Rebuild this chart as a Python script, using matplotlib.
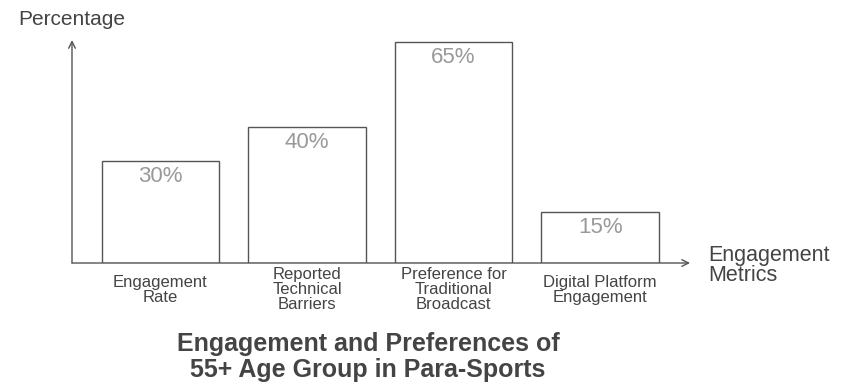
import matplotlib.pyplot as plt

plt.rcParams['font.family'] = ['Liberation Sans', 'DejaVu Sans']

# data
categories = ["Engagement\nRate", "Reported\nTechnical\nBarriers",
              "Preference for\nTraditional\nBroadcast", "Digital Platform\nEngagement"]
values = [30, 40, 65, 15]
value_labels = ["30%", "40%", "65%", "15%"]

fig = plt.figure(figsize=(8.47, 3.83), dpi=100)
ax = fig.add_axes([0.085, 0.3133, 0.7297, 0.5822])

x = list(range(len(values)))
ax.bar(x, values, width=0.8, color="white", edgecolor="#555555", linewidth=1.0)

ax.set_xlim(-0.604, 3.614)
ax.set_ylim(0, 65.6)
for s in ax.spines.values():
    s.set_visible(False)
ax.set_xticks([])
ax.set_yticks([])

# axes with arrow heads
ax.annotate("", xy=(1, 0), xytext=(0, 0), xycoords="axes fraction",
            arrowprops=dict(arrowstyle="->", color="#555555", lw=1.0,
                            shrinkA=0, shrinkB=0, mutation_scale=12))
ax.annotate("", xy=(0, 1), xytext=(0, 0), xycoords="axes fraction",
            arrowprops=dict(arrowstyle="->", color="#555555", lw=1.0,
                            shrinkA=0, shrinkB=0, mutation_scale=12))

# value labels inside bars
for xi, v, lab in zip(x, values, value_labels):
    ax.text(xi, v - 4.6, lab, ha="center", va="center", fontsize=16, color="#999999")

# category labels
for xi, cat in zip(x, categories):
    ax.text(xi, -7.8, cat, ha="center", va="center", fontsize=12,
            color="#444444", linespacing=1.0, clip_on=False)

ax.text(1.03, -0.01, "Engagement\nMetrics", transform=ax.transAxes, ha="left",
        va="center", fontsize=15.5, color="#444444", linespacing=0.92)
ax.text(0.0, 1.09, "Percentage", transform=ax.transAxes, ha="center",
        va="center", fontsize=15, color="#444444")

fig.text(368 / 847, 1 - 357 / 383, "Engagement and Preferences of\n55+ Age Group in Para-Sports",
         ha="center", va="center", fontsize=18, fontweight="bold", color="#444444",
         linespacing=1.1)

fig.savefig("out.png", dpi=100, facecolor="white")
